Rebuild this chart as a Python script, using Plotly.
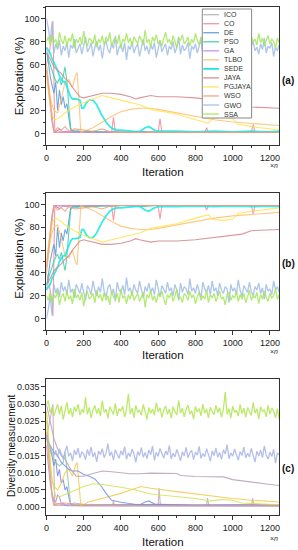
import plotly.graph_objects as go

# ---------------- data ----------------
NAMES = ["ICO", "CO", "DE", "PSO", "GA", "TLBO", "SEDE", "JAYA", "PGJAYA", "WSO", "GWO", "SSA"]
COLORS = ["#b4b4b4", "#f28c96", "#5a9bd8", "#3ccfa8", "#c88be6", "#ffc070",
          "#1ee6e6", "#d4868e", "#ffe450", "#f5a07a", "#a0bce6", "#a4e65a"]
COLORS_C = ["#b4b4b4", "#c8a8b8", "#7a8ae0", "#8cc8a8", "#b88ae6", "#f5c850",
            "#7890e6", "#b8a0b4", "#cfe650", "#f5a07a", "#a8b4e6", "#b2e650"]

ITER_NOISY = list(range(0, 1251, 10))

# ---- Exploration (%) ----
ICO_x = [0, 10, 20, 30, 40, 60, 80, 100, 130, 160, 200, 260, 300, 360, 400, 460, 500, 560, 600, 700, 800, 900, 1000, 1100, 1250]
ICO_a = [60, 45, 30, 12, 1, 3, 1, 2, 1, 3, 1, 2, 1, 2, 1, 1, 2, 1, 1, 1, 1, 1, 1, 1, 1]

CO_x = [0, 15, 30, 35, 40, 45, 60, 100, 150, 200, 300, 350, 360, 370, 400, 500, 600, 610, 620, 700, 850, 860, 870, 1000, 1100, 1110, 1120, 1250]
CO_a = [60, 70, 85, 98, 50, 1, 1, 1, 1, 1, 1, 1, 14, 1, 1, 1, 1, 13, 1, 1, 1, 5, 1, 1, 1, 8, 1, 1]

DE_x = [0, 10, 20, 30, 40, 50, 60, 70, 80, 90, 100, 110, 120, 130, 150, 200, 300, 400, 500, 600, 800, 1000, 1250]
DE_a = [75, 60, 50, 42, 35, 45, 20, 38, 25, 32, 22, 26, 15, 3, 2, 1.5, 1, 1, 1, 1, 1, 1, 1]

PSO_x = [0, 10, 20, 30, 40, 50, 60, 70, 80, 90, 100, 105, 110, 120, 130, 140, 200, 300, 400, 500, 600, 800, 1000, 1250]
PSO_a = [70, 65, 58, 55, 50, 46, 44, 48, 42, 50, 58, 52, 45, 25, 5, 2, 2, 1.5, 1, 2, 1, 1, 1, 1]

GA_x = [0, 10, 20, 30, 40, 50, 70, 90, 110, 150, 200, 300, 400, 600, 800, 1000, 1250]
GA_a = [55, 40, 25, 10, 2, 1, 4, 1, 2, 1, 1, 1, 1, 1, 1, 1, 1]

TLBO_x = [0, 10, 20, 30, 40, 60, 80, 100, 120, 140, 155, 165, 175, 185, 200, 250, 300, 350, 400, 450, 500, 560, 600, 700, 800, 900, 1000, 1100, 1250]
TLBO_a = [60, 45, 32, 25, 20, 18, 30, 45, 47, 40, 50, 53, 30, 1, 2, 5, 10, 15, 19, 21, 22, 22, 21, 18, 15, 12, 10, 9, 7]

SEDE_x = [0, 10, 20, 30, 40, 50, 60, 70, 80, 90, 100, 110, 120, 130, 140, 160, 180, 190, 200, 215, 230, 250, 270, 297, 320, 340, 358, 380, 400, 450, 500, 530, 550, 580, 600, 700, 800, 900, 1000, 1100, 1200, 1250]
SEDE_a = [75, 72, 70, 65, 62, 58, 55, 50, 47, 45, 45, 40, 35, 32, 30, 30, 29, 22, 22, 27, 29, 29, 25, 16, 10, 6, 4, 3, 3, 2, 1.5, 5, 6, 3, 2, 2, 1.5, 2, 1.5, 2, 1.5, 2]

JAYA_x = [0, 20, 40, 60, 80, 100, 120, 140, 160, 180, 200, 250, 300, 350, 400, 450, 480, 500, 560, 600, 700, 800, 850, 900, 1000, 1050, 1100, 1250]
JAYA_a = [70, 65, 58, 55, 52, 48, 45, 40, 36, 32, 31, 33, 35, 35, 34, 32, 30, 31, 33, 32, 32, 31, 30, 29, 27, 26, 23, 22]

PGJAYA_x = [0, 10, 20, 30, 40, 50, 60, 80, 100, 150, 200, 250, 300, 350, 400, 450, 500, 560, 700, 800, 870, 890, 950, 1000, 1030, 1100, 1250]
PGJAYA_a = [50, 35, 25, 18, 13, 12, 13, 15, 18, 23, 27, 30, 33, 31, 29, 27, 25, 21, 17, 12, 9, 13, 14, 13, 8, 6, 3]

WSO_x = [0, 10, 20, 30, 40, 60, 80, 100, 120, 150, 200, 250, 300, 350, 400, 600, 800, 1000, 1250]
WSO_a = [55, 40, 25, 10, 1, 5, 3, 6, 2, 4, 3, 2, 4, 1, 1, 1, 1, 1, 1]

GWO_a = [100, 92, 80, 97, 70, 78, 73, 81, 68, 76, 72, 79, 66, 77, 74, 82, 70, 75, 78, 69,
         76, 84, 71, 74, 79, 67, 75, 80, 72, 77, 65, 76, 81, 73, 70, 78, 74, 85, 68, 75,
         77, 71, 79, 64, 76, 73, 80, 70, 75, 78, 67, 74, 82, 72, 76, 69, 77, 73, 79, 66,
         75, 81, 71, 74, 78, 68, 76, 73, 80, 70, 75, 84, 69, 77, 72, 74, 79, 65, 76, 73,
         78, 70, 75, 82, 68, 74, 77, 71, 79, 67, 76, 73, 80, 69, 75, 78, 72, 74, 86, 70,
         76, 73, 79, 66, 75, 81, 71, 74, 77, 68, 76, 80, 72, 75, 69, 78, 73, 83, 70, 76,
         74, 79, 67, 75, 72, 77]

SSA_a = [80, 84, 77, 86, 79, 82, 75, 88, 81, 78, 85, 76, 83, 80, 87, 74, 82, 79, 84, 77,
         89, 80, 76, 83, 81, 78, 86, 75, 82, 79, 85, 77, 84, 80, 88, 76, 81, 83, 78, 86,
         74, 82, 80, 87, 79, 83, 76, 84, 81, 78, 85, 80, 77, 90, 79, 82, 75, 84, 80, 86,
         78, 81, 76, 83, 88, 79, 82, 77, 85, 80, 74, 83, 81, 86, 78, 80, 84, 76, 82, 79,
         87, 81, 77, 84, 80, 83, 75, 86, 79, 82, 78, 85, 80, 76, 83, 81, 88, 79, 77, 84,
         80, 82, 76, 85, 79, 83, 78, 86, 81, 75, 84, 80, 82, 77, 87, 79, 83, 76, 81, 85,
         78, 82, 80, 74, 83, 79]

# ---- Diversity measurement ----
ICO_cx = [0, 10, 20, 30, 40, 60, 100, 150, 200, 300, 400, 500, 600, 800, 1000, 1250]
ICO_c = [0.025, 0.018, 0.010, 0.004, 0.0008, 0.001, 0.0006, 0.0012, 0.0008, 0.0007, 0.0006, 0.0005, 0.0006, 0.0005, 0.0005, 0.0004]

CO_cx = [0, 15, 30, 35, 40, 45, 100, 300, 355, 360, 365, 600, 605, 612, 860, 865, 872, 1102, 1107, 1114, 1250]
CO_c = [0.020, 0.024, 0.028, 0.030, 0.012, 0.0005, 0.0005, 0.0005, 0.0005, 0.0020, 0.0005, 0.0005, 0.0055, 0.0005, 0.0005, 0.0026, 0.0005, 0.0005, 0.0026, 0.0005, 0.0005]

DE_cx = [0, 10, 20, 30, 40, 50, 60, 70, 80, 90, 100, 110, 120, 130, 150, 200, 400, 600, 800, 1000, 1250]
DE_c = [0.021, 0.019, 0.017, 0.015, 0.012, 0.014, 0.009, 0.011, 0.007, 0.008, 0.005, 0.006, 0.003, 0.0008, 0.0006, 0.0005, 0.0006, 0.0008, 0.0006, 0.0007, 0.0006]

PSO_cx = [0, 10, 20, 30, 50, 70, 90, 100, 105, 110, 120, 130, 140, 200, 400, 600, 800, 1000, 1250]
PSO_c = [0.020, 0.018, 0.016, 0.015, 0.013, 0.012, 0.013, 0.016, 0.013, 0.010, 0.006, 0.001, 0.0005, 0.0005, 0.0004, 0.0005, 0.0004, 0.0004, 0.0004]

GA_cx = [0, 10, 20, 30, 40, 50, 60, 70, 80, 90, 100, 120, 200, 400, 800, 1250]
GA_c = [0.018, 0.012, 0.007, 0.004, 0.002, 0.0015, 0.0035, 0.003, 0.001, 0.0012, 0.0005, 0.0004, 0.0003, 0.0003, 0.0003, 0.0003]

TLBO_cx = [0, 10, 20, 30, 40, 60, 80, 100, 120, 140, 155, 165, 175, 185, 226, 300, 400, 508, 560, 700, 800, 900, 1000, 1100, 1250]
TLBO_c = [0.028, 0.020, 0.012, 0.008, 0.006, 0.005, 0.007, 0.010, 0.011, 0.009, 0.012, 0.013, 0.007, 0.0004, 0.0015, 0.0025, 0.0040, 0.0060, 0.0055, 0.0045, 0.0038, 0.0030, 0.0025, 0.0020, 0.0015]

SEDE_cx = [0, 20, 40, 60, 80, 100, 120, 140, 170, 200, 230, 260, 296, 320, 350, 400, 440, 500, 530, 550, 580, 600, 800, 1000, 1250]
SEDE_c = [0.020, 0.018, 0.016, 0.015, 0.013, 0.012, 0.011, 0.0105, 0.0105, 0.0095, 0.009, 0.0082, 0.006, 0.004, 0.002, 0.0014, 0.001, 0.0006, 0.0015, 0.0018, 0.0009, 0.0006, 0.0005, 0.0005, 0.0005]

JAYA_cx = [0, 20, 40, 60, 80, 100, 130, 160, 200, 250, 300, 350, 400, 450, 500, 560, 700, 720, 800, 950, 1000, 1100, 1200, 1250]
JAYA_c = [0.030, 0.025, 0.020, 0.017, 0.015, 0.014, 0.011, 0.009, 0.009, 0.0098, 0.0105, 0.0103, 0.0100, 0.0097, 0.0097, 0.0099, 0.0098, 0.0092, 0.0089, 0.0088, 0.0080, 0.0072, 0.0066, 0.0063]

PGJAYA_cx = [0, 20, 30, 50, 70, 100, 150, 200, 250, 300, 400, 480, 560, 700, 800, 880, 950, 1000, 1050, 1250]
PGJAYA_c = [0.028, 0.015, 0.008, 0.003, 0.003, 0.0037, 0.0048, 0.0060, 0.0068, 0.0066, 0.0058, 0.0050, 0.0038, 0.0030, 0.0025, 0.0018, 0.0022, 0.0020, 0.0012, 0.0007]

WSO_cx = [0, 10, 20, 30, 40, 60, 100, 150, 200, 300, 400, 600, 800, 1000, 1250]
WSO_c = [0.022, 0.015, 0.008, 0.003, 0.0005, 0.001, 0.0012, 0.0008, 0.0007, 0.0005, 0.0004, 0.0004, 0.0004, 0.0004, 0.0004]

GWO_c = [0.0210, 0.0190, 0.0175, 0.0160, 0.0150, 0.0165, 0.0145, 0.0170, 0.0155, 0.0140,
         0.0162, 0.0178, 0.0148, 0.0158, 0.0135, 0.0166, 0.0152, 0.0172, 0.0143, 0.0160,
         0.0155, 0.0138, 0.0168, 0.0150, 0.0175, 0.0146, 0.0159, 0.0132, 0.0163, 0.0153,
         0.0170, 0.0144, 0.0157, 0.0185, 0.0149, 0.0161, 0.0137, 0.0167, 0.0154, 0.0142,
         0.0164, 0.0151, 0.0176, 0.0139, 0.0158, 0.0147, 0.0169, 0.0155, 0.0130, 0.0162,
         0.0150, 0.0173, 0.0145, 0.0159, 0.0141, 0.0166, 0.0153, 0.0178, 0.0136, 0.0160,
         0.0148, 0.0171, 0.0156, 0.0143, 0.0163, 0.0152, 0.0180, 0.0140, 0.0157, 0.0146,
         0.0168, 0.0154, 0.0135, 0.0161, 0.0149, 0.0174, 0.0144, 0.0158, 0.0165, 0.0138,
         0.0160, 0.0151, 0.0177, 0.0142, 0.0156, 0.0147, 0.0170, 0.0153, 0.0133, 0.0164,
         0.0150, 0.0172, 0.0145, 0.0159, 0.0139, 0.0167, 0.0155, 0.0182, 0.0141, 0.0158,
         0.0148, 0.0169, 0.0154, 0.0136, 0.0162, 0.0150, 0.0175, 0.0143, 0.0157, 0.0146,
         0.0171, 0.0153, 0.0131, 0.0163, 0.0149, 0.0166, 0.0144, 0.0178, 0.0152, 0.0140,
         0.0160, 0.0147, 0.0168, 0.0128, 0.0158, 0.0152]

SSA_c = [0.0300, 0.0310, 0.0275, 0.0290, 0.0265, 0.0285, 0.0300, 0.0270, 0.0295, 0.0255,
         0.0280, 0.0305, 0.0270, 0.0288, 0.0262, 0.0292, 0.0278, 0.0300, 0.0268, 0.0285,
         0.0275, 0.0320, 0.0270, 0.0290, 0.0260, 0.0283, 0.0296, 0.0272, 0.0288, 0.0265,
         0.0310, 0.0276, 0.0285, 0.0258, 0.0292, 0.0280, 0.0270, 0.0302, 0.0266, 0.0287,
         0.0279, 0.0294, 0.0262, 0.0285, 0.0330, 0.0271, 0.0288, 0.0260, 0.0296, 0.0276,
         0.0283, 0.0267, 0.0299, 0.0278, 0.0255, 0.0290, 0.0273, 0.0286, 0.0268, 0.0304,
         0.0277, 0.0289, 0.0261, 0.0283, 0.0295, 0.0270, 0.0286, 0.0258, 0.0292, 0.0279,
         0.0268, 0.0310, 0.0274, 0.0288, 0.0263, 0.0284, 0.0297, 0.0271, 0.0280, 0.0256,
         0.0293, 0.0277, 0.0287, 0.0266, 0.0300, 0.0273, 0.0285, 0.0260, 0.0291, 0.0278,
         0.0269, 0.0296, 0.0275, 0.0289, 0.0262, 0.0284, 0.0335, 0.0270, 0.0287, 0.0259,
         0.0294, 0.0276, 0.0282, 0.0265, 0.0299, 0.0272, 0.0288, 0.0261, 0.0290, 0.0279,
         0.0267, 0.0305, 0.0274, 0.0286, 0.0257, 0.0292, 0.0278, 0.0284, 0.0263, 0.0296,
         0.0271, 0.0289, 0.0280, 0.0260, 0.0287, 0.0255]

X_TICKS = [0, 200, 400, 600, 800, 1000, 1200]

# exploration series; exploitation is its complement (100 - exploration)
EXPLORATION = [(ICO_x, ICO_a), (CO_x, CO_a), (DE_x, DE_a), (PSO_x, PSO_a), (GA_x, GA_a),
               (TLBO_x, TLBO_a), (SEDE_x, SEDE_a), (JAYA_x, JAYA_a), (PGJAYA_x, PGJAYA_a),
               (WSO_x, WSO_a), (ITER_NOISY, GWO_a), (ITER_NOISY, SSA_a)]
DIVERSITY = [(ICO_cx, ICO_c), (CO_cx, CO_c), (DE_cx, DE_c), (PSO_cx, PSO_c), (GA_cx, GA_c),
             (TLBO_cx, TLBO_c), (SEDE_cx, SEDE_c), (JAYA_cx, JAYA_c), (PGJAYA_cx, PGJAYA_c),
             (WSO_cx, WSO_c), (ITER_NOISY, GWO_c), (ITER_NOISY, SSA_c)]

# ---------------- figure ----------------
W, H = 298, 550
FONT = "Arial, Liberation Sans, sans-serif"


def px(x):
    return x / W


def py(y):
    return 1 - y / H


fig = go.Figure()

for i, name in enumerate(NAMES):
    xs, ys = EXPLORATION[i]
    w = 1.8 if name == "SEDE" else (1.3 if name in ("GWO", "SSA") else 1.1)
    fig.add_trace(go.Scatter(x=xs, y=ys, mode="lines", name=name, showlegend=False,
                             line=dict(color=COLORS[i], width=w), opacity=0.85,
                             xaxis="x", yaxis="y"))
    fig.add_trace(go.Scatter(x=xs, y=[100 - v for v in ys], mode="lines", name=name, showlegend=False,
                             line=dict(color=COLORS[i], width=w), opacity=0.85,
                             xaxis="x2", yaxis="y2"))
    xs, ys = DIVERSITY[i]
    fig.add_trace(go.Scatter(x=xs, y=ys, mode="lines", name=name, showlegend=False,
                             line=dict(color=COLORS_C[i], width=1.3 if name in ("GWO", "SSA") else 1.1),
                             opacity=0.85, xaxis="x3", yaxis="y3"))

XDOM = [px(44), px(280)]


def xax(anchor):
    return dict(domain=XDOM, anchor=anchor, range=[0, 1250], tickvals=X_TICKS,
                ticks="outside", ticklen=4, tickwidth=1, tickcolor="#333",
                minor=dict(dtick=100, ticks="outside", ticklen=2, tickcolor="#333"),
                showline=True, linecolor="#333", linewidth=1, mirror=True,
                showgrid=False, zeroline=False,
                tickfont=dict(family=FONT, size=9, color="#222"))


def yax(anchor, dom, rng, dtick, minor, fmt=None):
    d = dict(domain=dom, anchor=anchor, range=rng, dtick=dtick, tick0=0,
             ticks="outside", ticklen=4, tickwidth=1, tickcolor="#333",
             minor=dict(dtick=minor, tick0=0, ticks="outside", ticklen=2, tickcolor="#333"),
             showline=True, linecolor="#333", linewidth=1, mirror=True,
             showgrid=False, zeroline=False,
             tickfont=dict(family=FONT, size=9, color="#222"))
    if fmt:
        d["tickformat"] = fmt
    return d


fig.update_layout(
    width=W, height=H, margin=dict(l=0, r=0, t=0, b=0),
    paper_bgcolor="white", plot_bgcolor="white", showlegend=False,
    xaxis=xax("y"), xaxis2=xax("y2"), xaxis3=xax("y3"),
    yaxis=yax("x", [py(145), py(7)], [-10, 110], 20, 10),
    yaxis2=yax("x2", [py(330), py(193)], [-10, 110], 20, 10),
    yaxis3=yax("x3", [py(515), py(379)], [-0.0023, 0.0373], 0.005, 0.0025, ".3f"),
)

ann = []
# axis titles
for y, txt, xpos, size in [(76, "Exploration (%)", 16.5, 11.5), (258, "Exploitation (%)", 16, 11.5),
                           (446, "Diversity measurement", 8, 10)]:
    ann.append(dict(x=px(xpos), y=py(y), xref="paper", yref="paper", text=txt, textangle=-90,
                    showarrow=False, font=dict(family=FONT, size=size, color="#111"),
                    xanchor="center", yanchor="middle"))
for y in [172, 355, 542]:
    ann.append(dict(x=px(162), y=py(y), xref="paper", yref="paper", text="Iteration",
                    showarrow=False, font=dict(family=FONT, size=11.5, color="#111"),
                    xanchor="center", yanchor="middle"))
for y in [165.5, 351.5, 538]:
    ann.append(dict(x=px(275), y=py(y), xref="paper", yref="paper", text="×<i>n</i>",
                    showarrow=False, font=dict(family=FONT, size=7, color="#333"),
                    xanchor="center", yanchor="middle"))
for y, lab in [(81, "(a)"), (263, "(b)"), (468, "(c)")]:
    ann.append(dict(x=px(289), y=py(y), xref="paper", yref="paper", text="<b>" + lab + "</b>",
                    showarrow=False, font=dict(family=FONT, size=10, color="#111"),
                    xanchor="center", yanchor="middle"))

# hand-built legend (native legend rows cannot be this tight)
shapes = [dict(type="rect", xref="paper", yref="paper", x0=px(202), x1=px(252), y0=py(118), y1=py(9),
               fillcolor="white", line=dict(color="#888", width=1), layer="above")]
for i, name in enumerate(NAMES):
    yy = 14.7 + 9.03 * i
    shapes.append(dict(type="line", xref="paper", yref="paper", x0=px(203), x1=px(219),
                       y0=py(yy), y1=py(yy), line=dict(color=COLORS[i], width=1.8 if name == "SEDE" else 1.2),
                       layer="above"))
    ann.append(dict(x=px(221.5), y=py(yy), xref="paper", yref="paper", text=name, showarrow=False,
                    font=dict(family=FONT, size=7, color="#333"), xanchor="left", yanchor="middle"))

fig.update_layout(annotations=ann, shapes=shapes)
fig.write_html("out.html", config={"displayModeBar": False},
               post_script="document.body.style.margin='0';document.body.style.overflow='hidden';")
